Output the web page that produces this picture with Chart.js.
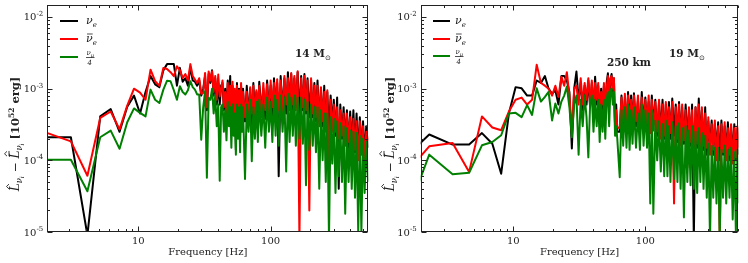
<!DOCTYPE html>
<html>
<head>
<meta charset="utf-8">
<script src="https://cdn.jsdelivr.net/npm/chart.js@4.4.1/dist/chart.umd.min.js"></script>
<style>
  html, body { margin: 0; padding: 0; background: #fff; }
  #wrap { position: relative; width: 748px; height: 263px; }
  canvas { position: absolute; top: 0; }
  #left { left: 0; }
  #right { left: 374px; }
</style>
</head>
<body>
<div id="wrap">
  <canvas id="left" width="374" height="263"></canvas>
  <canvas id="right" width="374" height="263"></canvas>
</div>
<script>
// values are in units of 1e-4 x 10^52 erg
const UNIT = 1e-4;

// ===== 14 Msun panel =====
const freqLeft = [
  1.03, 2.06, 3.09, 4.12, 5.15, 6.18, 7.21, 8.24, 9.27, 10.3,
  11.33, 12.36, 13.39, 14.42, 15.45, 16.48, 17.51, 18.54, 19.57, 20.6,
  21.63, 22.66, 23.69, 24.72, 25.75, 26.78, 27.81, 28.84, 29.87, 30.9,
  31.93, 32.96, 33.99, 35.02, 36.05, 37.08, 38.11, 39.14, 40.17, 41.2,
  42.23, 43.26, 44.29, 45.32, 46.35, 47.38, 48.41, 49.44, 50.47, 51.5,
  52.53, 53.56, 54.59, 55.62, 56.65, 57.68, 58.71, 59.74, 60.77, 61.8,
  64, 66, 68, 70, 72, 74, 76, 78, 80, 82,
  85, 88, 91, 94, 97, 100, 103, 106, 109, 112,
  115, 119, 123, 127, 131, 135, 139, 143, 147, 151,
  155, 160, 165, 170, 175, 180, 185, 190, 196, 202,
  208, 214, 220, 226, 233, 240, 247, 254, 261, 268,
  276, 284, 292, 300, 309, 318, 327, 336, 346, 356,
  366, 377, 388, 399, 410, 422, 434, 446, 459, 472,
  485, 499, 513, 528, 545
];
const nueLeft = [
  2.1, 2.1, 2.1, 0.09, 4.1, 5.2, 2.5, 5.6, 8, 4.5,
  9, 15, 11.5, 10.5, 18, 22, 22, 22, 11, 19.5,
  12.5, 14, 11, 20, 13, 12.5, 11, 13, 8, 10,
  15, 5, 16, 12, 18, 8, 14, 6, 12, 6,
  11, 12, 5, 10, 4, 13, 6, 15, 3.5, 11,
  5, 9, 1.4, 12, 4, 10, 3.5, 11, 5, 10,
  3.5, 11, 4, 10, 3, 12, 4.5, 9, 3.5, 12.5,
  5, 10, 3.8, 13, 5, 11, 4, 14, 5.5, 12,
  0.6, 15, 5, 14, 4.5, 17, 6, 16, 5, 14,
  5.5, 17, 4, 15, 5, 16, 4.5, 14, 4, 13,
  4, 12, 3.5, 13, 3.5, 10, 3, 11, 3, 9,
  2.5, 8, 3, 7, 2.2, 7.5, 0.4, 6, 2, 5.5,
  1.8, 5, 1.5, 4.8, 1.5, 5, 1.3, 4.5, 1.2, 4,
  1.3, 3.5, 1.2, 3, 1.5
];
const nuebarLeft = [
  2.4, 2.4, 1.84, 0.61, 3.9, 4.8, 2.7, 5.8, 10, 8.8,
  7, 18.4, 12.7, 11, 19.4, 18.8, 17, 14.9, 20.5, 18,
  14.1, 16, 13, 22, 15, 13.4, 12, 14, 8.5, 8.7,
  16.5, 5.5, 17.4, 13, 17.5, 9, 15, 7, 15.7, 7.8,
  10, 13, 5.5, 9, 4.5, 12, 5, 11, 4, 12.5,
  4.5, 10, 2.5, 11, 5, 9.5, 3, 12, 4.5, 9,
  4, 9, 3.5, 10.5, 4.5, 11, 3.8, 9.5, 5, 11,
  4, 12, 5, 11.5, 4.5, 13, 5.5, 12, 4.5, 13.5,
  5, 13, 4.5, 15, 6, 14, 5, 16.5, 6, 15,
  5, 17.5, 0.08, 14, 5.5, 15, 5, 13, 0.2, 14,
  4.5, 11, 4, 11, 3, 10.5, 3.5, 9, 2.5, 9.5,
  0.5, 7, 2.5, 6, 2.5, 5.5, 2, 5, 2.2, 4.5,
  1.6, 4.5, 1.8, 4, 1.2, 3.8, 1.4, 3.5, 1, 3.5,
  1.2, 3, 1, 2.5, 1.9
];
const numuLeft = [
  1, 1.02, 1.02, 0.37, 2.1, 2.6, 1.45, 3.4, 5.3, 4.6,
  4.1, 9.7, 7, 6.3, 9.7, 12.9, 12.7, 9.5, 7, 10.8,
  9, 8.3, 9.5, 12.7, 10.5, 9.7, 8.3, 8.3, 1.94, 5.5,
  9.2, 0.57, 7.4, 7, 10, 4.5, 8, 3, 6, 0.52,
  5.5, 6, 2.5, 5, 1.9, 6.5, 3, 5.5, 1.5, 6,
  2.2, 4.5, 1.2, 6, 2, 5.5, 1.3, 6, 2.5, 5.5,
  0.55, 6, 2.5, 7, 0.97, 5.5, 2, 6.5, 1.8, 7,
  2.2, 6, 1.5, 7.5, 2.5, 6.5, 1.8, 8, 2.2, 7,
  1.6, 8, 2.5, 7.5, 0.7, 8.5, 1.8, 7.5, 2.2, 8,
  1.6, 7.5, 2, 7.5, 1.7, 7, 0.45, 6.5, 1.4, 6,
  1.6, 5.5, 1.3, 5.5, 0.4, 5, 1, 4.5, 0.5, 4.5,
  0.08, 4, 0.9, 3.8, 0.35, 3.5, 0.6, 3.3, 0.5, 3,
  0.18, 2.8, 0.5, 2.6, 0.4, 2.5, 0.3, 2.4, 0.1, 2.2,
  0.1, 2, 0.35, 1.8, 0.5
];

// ===== 19 Msun panel =====
const freqRight = [
  1.16, 2.31, 3.47, 4.63, 5.79, 6.94, 8.1, 9.26, 10.41, 11.57,
  12.73, 13.88, 15.04, 16.2, 17.36, 18.51, 19.67, 20.83, 21.98, 23.14,
  24.3, 25.45, 26.61, 27.77, 28.93, 30.08, 31.24, 32.4, 33.55, 34.71,
  35.87, 37.02, 38.18, 39.34, 40.5, 41.65, 42.81, 43.97, 45.12, 46.28,
  47.44, 48.59, 49.75, 50.91, 52.07, 53.22, 54.38, 55.54, 56.69, 57.85,
  59.01, 60.16, 61.32,
  64, 66, 68, 70, 72, 74, 76, 78, 80, 82,
  85, 88, 91, 94, 97, 100, 103, 106, 109, 112,
  115, 119, 123, 127, 131, 135, 139, 143, 147, 151,
  155, 160, 165, 170, 175, 180, 185, 190, 196, 202,
  208, 214, 220, 226, 233, 240, 247, 254, 261, 268,
  276, 284, 292, 300, 309, 318, 327, 336, 346, 356,
  366, 377, 388, 399, 410, 422, 434, 446, 459, 472,
  485, 499, 513
];
const nueRight = [
  0.68, 2.29, 1.66, 1.66, 2.4, 1.7, 0.65, 4.5, 10.5, 10.1,
  8, 8, 13, 12, 15, 10, 8.5, 9.5, 6, 15,
  15, 13, 9, 1.46, 10, 17.3, 7, 12, 5, 11,
  6, 13, 5.5, 12, 4.5, 14.7, 6, 11, 3.6, 10,
  5, 11, 4, 12, 16.4, 7, 13, 16, 9, 14,
  3, 6, 2.5,
  2.5, 8, 3, 7, 2.5, 9, 3.5, 8, 2.8, 8.6,
  3, 7, 2.5, 9, 3.2, 7.5, 2.8, 6.5, 2.5, 8,
  3, 7, 2.2, 6.5, 2.5, 7, 2, 6, 2.5, 6.5,
  2, 7.3, 2.2, 6, 1.8, 6.5, 2, 5.5, 1.7, 6,
  2, 5, 1.6, 6, 0.08, 5.5, 1.5, 7.3, 1.8, 5,
  1.4, 5.5, 1.2, 3.5, 1.5, 3.6, 1.2, 3.2, 1.4, 3.4,
  1, 3.6, 1.2, 3, 1.3, 3.4, 1, 3, 1.2, 3.2,
  1, 2.8, 1.2
];
const nuebarRight = [
  0.36, 1.57, 1.75, 0.69, 4.1, 2.87, 2.63, 4.8, 7, 7.5,
  6, 7, 21.5, 12, 11, 10, 8, 11, 7.7, 14.7,
  11, 17, 8, 2.5, 10, 11, 6, 14, 6, 12,
  7, 14, 6, 13, 5, 12, 7, 12, 4.5, 9,
  6, 12, 5, 10, 15, 8, 14, 15, 10, 14,
  2.9, 5, 2.9,
  2.8, 7.5, 3.5, 8.5, 3, 8, 3, 7, 3.2, 8,
  3.5, 8, 2.5, 7.5, 3, 7, 3.2, 8, 2.4, 7,
  2.6, 6.5, 2.5, 7, 2, 6, 2.2, 6.5, 1.8, 5.5,
  2.4, 6.5, 0.25, 5.5, 2, 6, 1.6, 6, 1.9, 5,
  0.8, 5.5, 1.8, 5, 1.5, 5.5, 1.7, 6, 1.4, 5.5,
  1.6, 4.5, 1.5, 4, 1.2, 3.2, 1.4, 3.6, 1, 3,
  0.08, 3.2, 1.3, 3.4, 1, 2.8, 1.2, 3.2, 0.9, 2.8,
  1.1, 3, 1.5
];
const numuRight = [
  0.04, 1.2, 0.64, 0.67, 1.62, 1.8, 2.24, 4.5, 4.6, 4,
  5.9, 4.3, 10.1, 6.6, 7.7, 9, 3.6, 6.2, 4.5, 6.6,
  8, 10.7, 5.5, 2.1, 6, 8, 1.2, 7, 3, 8,
  4, 1.1, 6, 8, 2.5, 7, 3, 7, 1.8, 6,
  2.5, 7, 2, 7, 9, 3, 9.6, 10, 6, 9,
  2.2, 3, 2,
  0.58, 5, 1.6, 5.5, 1.5, 6, 1.4, 5, 1.7, 5.5,
  1.5, 4.5, 1.4, 6, 1.6, 5, 1.5, 4.5, 0.25, 5,
  0.18, 3.6, 1, 3.5, 0.7, 3.2, 0.6, 3.6, 0.6, 3,
  0.5, 3.4, 0.55, 3, 0.5, 3.3, 0.4, 2.8, 0.16, 3,
  0.5, 2.6, 0.45, 3, 0.4, 2.5, 0.35, 2.8, 0.5, 2.4,
  0.4, 2.2, 0.3, 1.7, 0.08, 1.6, 0.3, 1.5, 0.25, 1.5,
  0.08, 1.4, 0.3, 1.6, 0.25, 1.4, 0.3, 1.5, 0.15, 1.3,
  0.1, 1.4, 0.25
];

const xTickLabels = [10, 100];
const yTickExponents = [-5, -4, -3, -2];

const serif = '"DejaVu Serif", serif';
const inkColor = "#222";
const lineColors = ["#000000", "#ff0000", "#008000"];

function points(freq, vals) {
  return freq.map((f, i) => ({ x: f, y: vals[i] * UNIT }));
}

function drawRuns(ctx, x, y, runs) {
  let cx = x;
  for (const r of runs) {
    ctx.font = r.font;
    ctx.fillText(r.t, cx, y + (r.dy || 0));
    r.x = cx;
    r.w = ctx.measureText(r.t).width;
    cx += r.w;
  }
  return cx - x;
}

function runsWidth(ctx, runs) {
  let w = 0;
  for (const r of runs) {
    ctx.font = r.font;
    w += ctx.measureText(r.t).width;
  }
  return w;
}

function hat(ctx, x, w, yBase) {
  ctx.beginPath();
  ctx.moveTo(x + w * 0.3, yBase);
  ctx.lineTo(x + w * 0.6, yBase - 2.5);
  ctx.lineTo(x + w * 0.9, yBase);
  ctx.stroke();
}

function drawYTitle(ctx, cx, cy) {
  ctx.save();
  ctx.translate(cx, cy);
  ctx.rotate(-Math.PI / 2);
  ctx.fillStyle = inkColor;
  ctx.strokeStyle = inkColor;
  ctx.lineWidth = 0.9;
  const it = `italic 12px ${serif}`;
  const sub = `italic 8.5px ${serif}`;
  const sub2 = `italic 6px ${serif}`;
  const bold = `bold 11.5px ${serif}`;
  const runs = [
    { t: "L", font: it },
    { t: "ν", font: sub, dy: 3 },
    { t: "i", font: sub2, dy: 5 },
    { t: " − ", font: `12px ${serif}` },
    { t: "L", font: it },
    { t: "ν", font: sub, dy: 3 },
    { t: "i", font: sub2, dy: 5 },
    { t: " [10", font: bold },
    { t: "52", font: `bold 7.5px ${serif}`, dy: -5 },
    { t: " erg]", font: bold },
  ];
  const w = runsWidth(ctx, runs);
  drawRuns(ctx, -w / 2, 4, runs);
  hat(ctx, runs[0].x, runs[0].w, -6);
  // bar + hat on second L
  ctx.beginPath();
  ctx.moveTo(runs[4].x + runs[4].w * 0.3, -6);
  ctx.lineTo(runs[4].x + runs[4].w * 0.95, -6);
  ctx.stroke();
  hat(ctx, runs[4].x, runs[4].w, -8);
  ctx.restore();
}

function drawLegend(ctx, lx0, lx1, tx, rows) {
  ctx.save();
  ctx.lineWidth = 2;
  rows.forEach((y, i) => {
    ctx.strokeStyle = lineColors[i];
    ctx.beginPath();
    ctx.moveTo(lx0, y);
    ctx.lineTo(lx1, y);
    ctx.stroke();
  });
  ctx.fillStyle = inkColor;
  ctx.strokeStyle = inkColor;
  ctx.lineWidth = 0.8;
  const nu = `italic 11px ${serif}`;
  const sub = `italic 7px ${serif}`;
  drawRuns(ctx, tx, rows[0] + 3, [{ t: "ν", font: nu }, { t: "e", font: sub, dy: 2.5 }]);
  const r2 = [{ t: "ν", font: nu }, { t: "e", font: sub, dy: 2.5 }];
  drawRuns(ctx, tx, rows[1] + 3, r2);
  ctx.beginPath();
  ctx.moveTo(r2[0].x + 1, rows[1] - 5);
  ctx.lineTo(r2[0].x + r2[0].w, rows[1] - 5);
  ctx.stroke();
  // nu_mu / 4
  const y3 = rows[2];
  const num = [{ t: "ν", font: `italic 7px ${serif}` }, { t: "μ", font: `italic 5px ${serif}`, dy: 1.5 }];
  const nw = drawRuns(ctx, tx + 0.5, y3 - 2, num);
  ctx.beginPath();
  ctx.moveTo(tx, y3 + 0.5);
  ctx.lineTo(tx + nw + 1, y3 + 0.5);
  ctx.stroke();
  ctx.font = `italic 7px ${serif}`;
  ctx.fillText("4", tx + 1.5, y3 + 7.5);
  ctx.restore();
}

const panelDecor = {
  id: "panelDecor",
  afterDraw(chart, args, opts) {
    const ctx = chart.ctx;
    const a = chart.chartArea;
    const xs = chart.scales.x;
    const ys = chart.scales.y;
    const L = Math.round(a.left) + 0.5;
    const R = Math.round(a.right) - 0.5;
    const T = Math.round(a.top) + 0.5;
    const B = Math.round(a.bottom) - 0.5;
    ctx.save();
    ctx.strokeStyle = inkColor;
    ctx.lineWidth = 1;
    const seg = (x1, y1, x2, y2) => {
      ctx.beginPath();
      ctx.moveTo(x1, y1);
      ctx.lineTo(x2, y2);
      ctx.stroke();
    };
    // x ticks, inside, top and bottom
    for (let e = 0; e <= 2; e++) {
      for (let m = 1; m <= 9; m++) {
        const v = m * Math.pow(10, e);
        if (v < xs.min || v > xs.max) continue;
        const px = Math.round(xs.getPixelForValue(v)) + 0.5;
        const len = m === 1 ? 5 : 2.5;
        seg(px, B, px, B - len);
        seg(px, T, px, T + len);
      }
    }
    // y ticks, inside, left and right
    for (let e = -5; e <= -2; e++) {
      for (let m = 1; m <= 9; m++) {
        const v = m * Math.pow(10, e);
        if (v < ys.min || v > ys.max) continue;
        const py = Math.round(ys.getPixelForValue(v)) + 0.5;
        const len = m === 1 ? 5 : 2.5;
        seg(L, py, L + len, py);
        seg(R, py, R - len, py);
      }
    }
    ctx.strokeRect(L, T, R - L, B - T);

    // y tick labels with superscript exponent
    ctx.fillStyle = inkColor;
    ctx.textBaseline = "alphabetic";
    yTickExponents.forEach((p) => {
      const py = ys.getPixelForValue(Math.pow(10, p));
      const runs = [
        { t: "10", font: `10px ${serif}` },
        { t: String(p), font: `7px ${serif}`, dy: -4.5 },
      ];
      const w = runsWidth(ctx, runs);
      drawRuns(ctx, a.left - 4 - w, py + 3.5, runs);
    });

    drawYTitle(ctx, opts.titleX, 134);
    drawLegend(ctx, opts.legend[0], opts.legend[1], opts.legend[2], opts.legend[3]);

    // panel annotations
    for (const n of opts.notes) {
      const runs = [{ t: n.text, font: `bold 10.5px ${serif}` }];
      if (n.sun) runs.push({ t: "⊙", font: `7px "DejaVu Sans", sans-serif`, dy: 2.5 });
      drawRuns(ctx, n.x, n.y, runs);
    }
    ctx.restore();
  },
};

function makePanel(id, freq, nue, nuebar, numu, xMin, xMax, padRight, decor) {
  const series = [nue, nuebar, numu];
  return new Chart(document.getElementById(id), {
    type: "line",
    data: {
      datasets: series.map((vals, i) => ({
        data: points(freq, vals),
        borderColor: lineColors[i],
        borderWidth: 2,
        pointRadius: 0,
        tension: 0,
        fill: false,
        clip: 0,
        borderJoinStyle: "round",
        order: 3 - i, // green drawn on top
      })),
    },
    options: {
      responsive: false,
      animation: false,
      events: [],
      layout: { padding: { left: 0, right: padRight, top: 5, bottom: 0 } },
      plugins: {
        legend: { display: false },
        tooltip: { enabled: false },
        panelDecor: decor,
      },
      scales: {
        x: {
          type: "logarithmic",
          min: xMin,
          max: xMax,
          grid: { display: false, drawTicks: false },
          border: { display: false },
          ticks: {
            autoSkip: false,
            maxRotation: 0,
            padding: 3,
            color: inkColor,
            font: { family: serif, size: 10 },
            callback: (v) => {
              const hit = xTickLabels.find((t) => Math.abs(t - v) < 1e-6);
              return hit ? String(hit) : "";
            },
          },
          title: {
            display: true,
            text: "Frequency [Hz]",
            color: inkColor,
            font: { family: serif, size: 10 },
            padding: { top: 0, bottom: 5 },
          },
          afterFit: (s) => {
            s.height = 31;
          },
        },
        y: {
          type: "logarithmic",
          min: 1e-5,
          max: 0.0147,
          grid: { display: false, drawTicks: false },
          border: { display: false },
          ticks: { display: false },
          afterFit: (s) => {
            s.width = decor.axisWidth;
          },
        },
      },
    },
    plugins: [panelDecor],
  });
}

makePanel("left", freqLeft, nueLeft, nuebarLeft, numuLeft, 2.05, 547, 5.7, {
  axisWidth: 47.3,
  titleX: 15,
  legend: [60, 78, 86, [21, 39, 57]],
  notes: [{ text: "14 M", x: 295, y: 57, sun: true }],
});

makePanel("right", freqRight, nueRight, nuebarRight, numuRight, 1.99, 506, 9.7, {
  axisWidth: 46.7,
  titleX: 16,
  legend: [59, 76, 81, [21, 39, 56]],
  notes: [
    { text: "250 km", x: 233, y: 66, sun: false },
    { text: "19 M", x: 295, y: 57, sun: true },
  ],
});
</script>
</body>
</html>
